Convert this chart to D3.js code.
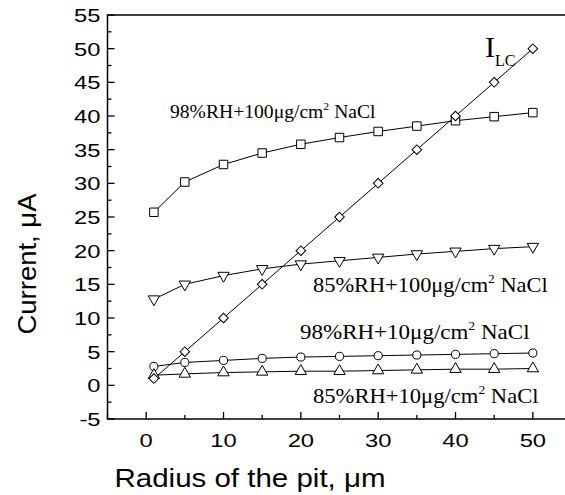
<!DOCTYPE html>
<html>
<head>
    <meta charset="UTF-8" />
    <title>Current vs pit radius</title>
    <script src="https://cdn.jsdelivr.net/npm/d3@7/dist/d3.min.js"></script>
    <style>
        body { margin: 0; background: #fff; }
        svg { display: block; }
        .sans { font-family: "Liberation Sans", Arial, sans-serif; fill: #000; }
        .serif { font-family: "Liberation Serif", "Times New Roman", serif; fill: #000; }
    </style>
</head>
<body>
<div id="chart"></div>
<script>
    // pit radius, um
    var radius = [1, 5, 10, 15, 20, 25, 30, 35, 40, 45, 50];

    // current, uA
    var rh98salt100 = [25.7, 30.2, 32.8, 34.5, 35.8, 36.8, 37.7, 38.5, 39.3, 39.9, 40.5];
    var rh85salt100 = [12.8, 15.0, 16.3, 17.3, 18.0, 18.5, 19.0, 19.5, 19.9, 20.3, 20.6];
    var rh98salt10 = [2.8, 3.4, 3.7, 4.0, 4.2, 4.3, 4.4, 4.5, 4.6, 4.7, 4.8];
    var rh85salt10 = [1.5, 1.7, 1.9, 2.0, 2.1, 2.1, 2.2, 2.3, 2.4, 2.4, 2.5];
    var iLC = [1, 5, 10, 15, 20, 25, 30, 35, 40, 45, 50];

    var xTicks = [0, 10, 20, 30, 40, 50];
    var yTicks = [-5, 0, 5, 10, 15, 20, 25, 30, 35, 40, 45, 50, 55];

    (function () {
        var W = 565, H = 495;
        var plotLeft = 107.5, plotTop = 15, plotBottom = 419;

        var svg = d3.select("#chart").append("svg")
            .attr("width", W).attr("height", H);

        var x = d3.scaleLinear().domain([-5, 55]).range([plotLeft, 571.5]);
        var y = d3.scaleLinear().domain([-5, 55]).range([plotBottom, plotTop]);

        // text that is stretched sideways like the original export
        function stretched(cls, px, py, size, sx, anchor, rot) {
            var g = svg.append("g")
                .attr("transform", "translate(" + px + "," + py + ")" + (rot ? " rotate(" + rot + ")" : "") + " scale(" + sx + ",1)");
            return g.append("text").attr("class", cls)
                .attr("text-anchor", anchor || "start")
                .style("font-size", size + "px");
        }

        // frame: left, bottom, top (right side falls off the picture)
        var frame = svg.append("g").attr("stroke", "#000").attr("stroke-width", 1.5).attr("fill", "none");
        frame.append("line").attr("x1", plotLeft).attr("x2", plotLeft).attr("y1", plotTop).attr("y2", plotBottom);
        frame.append("line").attr("x1", plotLeft - 0.75).attr("x2", W).attr("y1", plotBottom).attr("y2", plotBottom);
        frame.append("line").attr("x1", plotLeft - 0.75).attr("x2", W).attr("y1", plotTop).attr("y2", plotTop);

        // x axis, ticks pointing in
        var xMinor = d3.range(-5, 56, 5).filter(function (d) { return xTicks.indexOf(d) < 0; });
        var xAxis = svg.append("g").attr("transform", "translate(0," + plotBottom + ")");
        xAxis.selectAll("line.major").data(xTicks).enter().append("line")
            .attr("x1", d => x(d)).attr("x2", d => x(d)).attr("y1", 0).attr("y2", -7)
            .attr("stroke", "#000").attr("stroke-width", 1.3);
        xAxis.selectAll("line.minor").data(xMinor).enter().append("line")
            .attr("x1", d => x(d)).attr("x2", d => x(d)).attr("y1", 0).attr("y2", -4)
            .attr("stroke", "#000").attr("stroke-width", 1.3);
        xTicks.forEach(function (d) {
            stretched("sans", x(d), plotBottom + 28, 19, 1.25, "middle").text(d);
        });

        // y axis
        var yMinor = d3.range(-2.5, 55, 5);
        var yAxis = svg.append("g").attr("transform", "translate(" + plotLeft + ",0)");
        yAxis.selectAll("line.major").data(yTicks).enter().append("line")
            .attr("y1", d => y(d)).attr("y2", d => y(d)).attr("x1", 0).attr("x2", 7)
            .attr("stroke", "#000").attr("stroke-width", 1.3);
        yAxis.selectAll("line.minor").data(yMinor).enter().append("line")
            .attr("y1", d => y(d)).attr("y2", d => y(d)).attr("x1", 0).attr("x2", 4)
            .attr("stroke", "#000").attr("stroke-width", 1.3);
        yTicks.forEach(function (d) {
            stretched("sans", plotLeft - 7, y(d) + 7, 19, 1.25, "end").text(d);
        });

        // axis titles
        stretched("sans", 250, 487, 25, 1.18, "middle").text("Radius of the pit, \u03bcm");
        stretched("sans", 36, 264, 25, 1.1, "middle", -90).text("Current, \u03bcA");

        // series
        var series = [
            { values: rh98salt100, marker: d3.symbolSquare, size: 72, rot: 0 },
            { values: rh85salt100, marker: d3.symbolTriangle, size: 56, rot: 180 },
            { values: rh98salt10, marker: d3.symbolCircle, size: 52, rot: 0 },
            { values: rh85salt10, marker: d3.symbolTriangle, size: 56, rot: 0 },
            { values: iLC, marker: d3.symbolSquare, size: 46, rot: 45 }
        ];

        var line = d3.line().x(d => x(d[0])).y(d => y(d[1]));

        series.forEach(function (s) {
            var pts = radius.map(function (r, i) { return [r, s.values[i]]; });
            svg.append("path").datum(pts)
                .attr("d", line)
                .attr("fill", "none").attr("stroke", "#000").attr("stroke-width", 1);
        });
        series.forEach(function (s) {
            var pts = radius.map(function (r, i) { return [r, s.values[i]]; });
            var sym = d3.symbol().type(s.marker).size(s.size);
            svg.append("g").selectAll("path").data(pts).enter().append("path")
                .attr("d", sym)
                .attr("transform", d => "translate(" + x(d[0]) + "," + y(d[1]) + ") rotate(" + s.rot + ")")
                .attr("fill", "#fff").attr("stroke", "#000").attr("stroke-width", 1);
        });

        // series labels
        function label(txt, px, py, size, sx) {
            var t = stretched("serif", px, py, size, sx);
            t.append("tspan").text(txt);
            t.append("tspan").attr("dy", -size * 0.45).style("font-size", (size * 0.6) + "px").text("2");
            t.append("tspan").attr("dy", size * 0.45).text(" NaCl");
        }
        label("98%RH+100\u03bcg/cm", 170, 118, 18, 1.09);
        label("85%RH+100\u03bcg/cm", 313, 292, 20, 1.12);
        label("98%RH+10\u03bcg/cm", 300, 339, 20, 1.15);
        label("85%RH+10\u03bcg/cm", 313, 403, 20, 1.13);

        var ilc = stretched("serif", 485, 57, 30, 1.0);
        ilc.append("tspan").text("I");
        ilc.append("tspan").attr("dy", 9).style("font-size", "16px").text("LC");
    })();
</script>
</body>
</html>
